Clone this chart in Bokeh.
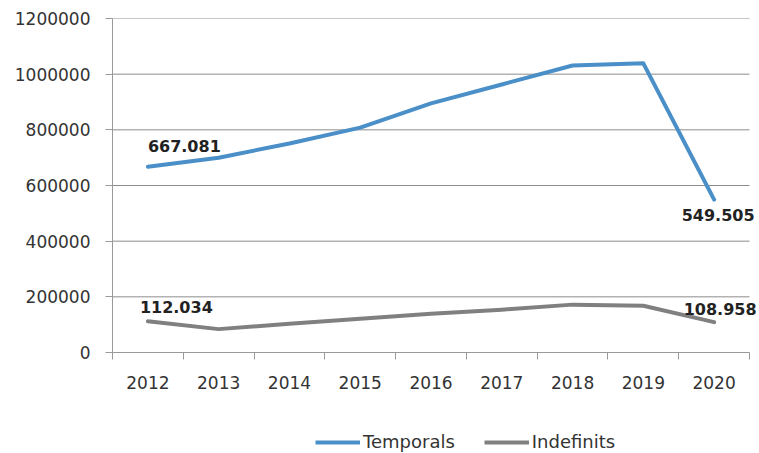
from bokeh.plotting import figure
from bokeh.models import (Range1d, FixedTicker, BasicTickFormatter, Legend, LegendItem, Label)
from bokeh.layouts import column
from bokeh.embed import file_html
from bokeh.resources import INLINE

years = [2012, 2013, 2014, 2015, 2016, 2017, 2018, 2019, 2020]
temporals = [667081, 700000, 751000, 808000, 895000, 963000, 1031000, 1039000, 549505]
indefinits = [112034, 84000, 103000, 121000, 139000, 154000, 172000, 168000, 108958]
y_ticks = [0, 200000, 400000, 600000, 800000, 1000000, 1200000]
series_names = ["Temporals", "Indefinits"]
blue = "#4a8fc7"
grey = "#808080"
FONT = "DejaVu Sans"
TXT = "#333333"
AX = "#999999"

x_lo = years[0] - 0.5
x_hi = years[-1] + 0.5

p = figure(width=759, height=420, output_backend="svg", toolbar_location=None,
           x_range=Range1d(x_lo, x_hi + 0.141),
           y_range=Range1d(0, y_ticks[-1]),
           min_border_left=112, min_border_right=0, min_border_top=18, min_border_bottom=68)
p.outline_line_color = None
p.background_fill_color = "white"
p.border_fill_color = "white"

# horizontal gridlines limited to the category area
n = len(y_ticks)
p.segment(x0=[x_lo] * n, y0=y_ticks, x1=[x_hi] * n, y1=y_ticks, line_color="#8c8c8c", line_width=1)
p.xgrid.grid_line_color = None
p.ygrid.grid_line_color = None

# x axis: labels at category centers, visible ticks at category boundaries
xa = p.xaxis[0]
xa.bounds = (x_lo, x_hi)
xa.ticker = FixedTicker(ticks=years, minor_ticks=[y - 0.5 for y in years] + [x_hi])
xa.major_tick_out = 0
xa.major_tick_in = 0
xa.minor_tick_out = 7
xa.minor_tick_in = 0
xa.minor_tick_line_color = AX
xa.axis_line_color = AX
xa.major_label_standoff = 16
xa.major_label_text_font = FONT
xa.major_label_text_font_size = "17px"
xa.major_label_text_color = TXT
xa.formatter = BasicTickFormatter(use_scientific=False)

ya = p.yaxis[0]
ya.ticker = FixedTicker(ticks=y_ticks)
ya.formatter = BasicTickFormatter(use_scientific=False)
ya.major_tick_out = 7
ya.major_tick_in = 0
ya.minor_tick_out = 0
ya.minor_tick_in = 0
ya.major_tick_line_color = AX
ya.axis_line_color = AX
ya.major_label_standoff = 15
ya.major_label_text_font = FONT
ya.major_label_text_font_size = "17px"
ya.major_label_text_color = TXT

p.line(years, temporals, line_color=blue, line_width=4, line_join="round", line_cap="round")
p.line(years, indefinits, line_color=grey, line_width=4, line_join="round", line_cap="round")

def fmt(v):
    return f"{v / 1000:.3f}"

labels = [
    (years[0], temporals[0], 0, 21, "left"),
    (years[-1], temporals[-1], 4, -15, "center"),
    (years[0], indefinits[0], -8, 14, "left"),
    (years[-1], indefinits[-1], 6, 13, "center"),
]
for x, y, dx, dy, al in labels:
    p.add_layout(Label(x=x, y=y, text=fmt(y), x_offset=dx, y_offset=dy,
                       text_align=al, text_baseline="alphabetic",
                       text_font=FONT, text_font_size="16px", text_font_style="bold",
                       text_color="#222222"))

# legend strip below the chart (its series lie outside this strip's ranges)
q = figure(width=759, height=33, output_backend="svg", toolbar_location=None,
           x_range=Range1d(0, 1), y_range=Range1d(0, 1),
           x_axis_location=None, y_axis_location=None,
           min_border_left=0, min_border_right=0, min_border_top=0, min_border_bottom=0)
q.outline_line_color = None
q.xgrid.grid_line_color = None
q.ygrid.grid_line_color = None
l1 = q.line(years, temporals, line_color=blue, line_width=4)
l2 = q.line(years, indefinits, line_color=grey, line_width=4)
legend = Legend(items=[LegendItem(label=series_names[0], renderers=[l1]),
                       LegendItem(label=series_names[1], renderers=[l2])],
                location=(203, 1), orientation="horizontal",
                glyph_width=45, glyph_height=16, label_height=16, label_standoff=3,
                spacing=29, padding=0, margin=0,
                border_line_alpha=0, background_fill_alpha=0,
                label_text_font=FONT, label_text_font_size="18px", label_text_color=TXT)
q.add_layout(legend, "center")

layout = column(p, q, spacing=0)
open("out.html", "w").write(file_html(layout, INLINE))
